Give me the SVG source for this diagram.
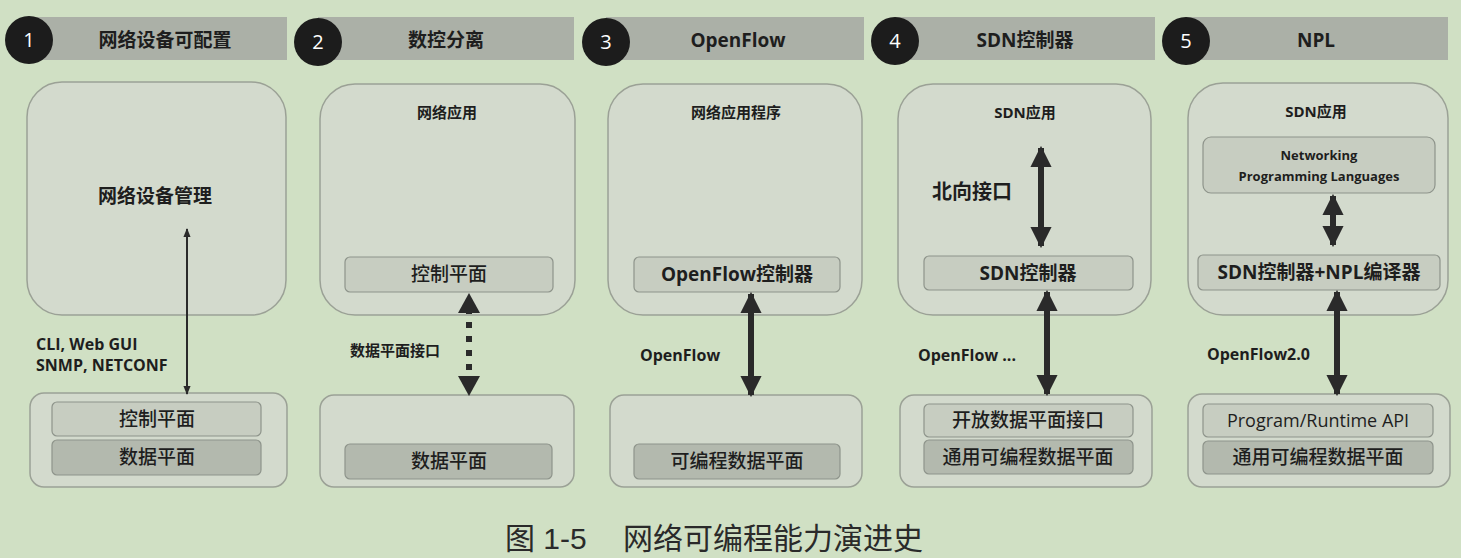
<svg xmlns="http://www.w3.org/2000/svg" width="1461" height="558" viewBox="0 0 1461 558">
<defs>
<style>
.bar{fill:#abb0a7;}
.num{fill:#1c1c1c;}
.numt{fill:#ffffff;font-family:"Open Sans","Noto Sans",sans-serif;font-size:20px;text-anchor:middle;}
.ht{fill:#1e1e1e;font-family:"Open Sans","Noto Sans CJK SC",sans-serif;font-weight:bold;font-size:19px;text-anchor:middle;}
.outer{fill:#d3dacd;stroke:#9ba196;stroke-width:1.5;}
.ctl{fill:#c7cdc1;stroke:#8e948b;stroke-width:1.2;}
.dat{fill:#b3b9ae;stroke:#8e948b;stroke-width:1.2;}
.t{fill:#1e1e1e;font-family:"Open Sans","Noto Sans CJK SC",sans-serif;font-weight:500;font-size:19px;text-anchor:middle;}
.tb{fill:#1e1e1e;font-family:"Open Sans","Noto Sans CJK SC",sans-serif;font-weight:bold;font-size:15px;text-anchor:middle;}
.lb{fill:#1e1e1e;font-family:"Open Sans","Noto Sans CJK SC",sans-serif;font-weight:bold;font-size:16px;}
.cap{fill:#2a2a2a;font-family:"Liberation Sans","Noto Sans CJK SC",sans-serif;font-size:30px;}
.thick{stroke:#2a2a2a;stroke-width:6;fill:none;}
</style>
<marker id="ah" viewBox="0 0 10 10" refX="9" refY="5" markerWidth="3.6" markerHeight="3.6" orient="auto-start-reverse" markerUnits="strokeWidth">
<path d="M0,0 L10,5 L0,10 z" fill="#2a2a2a"/>
</marker>
<marker id="ahs" viewBox="0 0 10 10" refX="9" refY="5" markerWidth="4.5" markerHeight="4.5" orient="auto-start-reverse" markerUnits="strokeWidth">
<path d="M0,1 L10,5 L0,9 z" fill="#2a2a2a"/>
</marker>
</defs>
<rect x="0" y="0" width="1461" height="558" fill="#d0e0c4"/>

<g id="headers">
<rect class="bar" x="29" y="17" width="258" height="43"/>
<circle class="num" cx="29" cy="40" r="24"/>
<text class="numt" x="29" y="47">1</text>
<text class="ht" x="165" y="47">网络设备可配置</text>

<rect class="bar" x="318" y="17" width="256" height="43"/>
<circle class="num" cx="318" cy="42" r="24"/>
<text class="numt" x="318" y="49">2</text>
<text class="ht" x="446" y="47">数控分离</text>

<rect class="bar" x="606" y="17" width="258" height="43"/>
<circle class="num" cx="606" cy="42" r="24"/>
<text class="numt" x="606" y="49">3</text>
<text class="ht" x="738" y="47">OpenFlow</text>

<rect class="bar" x="895" y="17" width="260" height="43"/>
<circle class="num" cx="895" cy="41" r="24"/>
<text class="numt" x="895" y="48">4</text>
<text class="ht" x="1025" y="47">SDN控制器</text>

<rect class="bar" x="1186" y="17" width="262" height="43"/>
<circle class="num" cx="1186" cy="41" r="24"/>
<text class="numt" x="1186" y="48">5</text>
<text class="ht" x="1316" y="47">NPL</text>
</g>

<g id="panel1">
<rect class="outer" x="27" y="82" width="259" height="233" rx="35"/>
<text class="t" x="155" y="203" style="font-weight:bold">网络设备管理</text>
<rect class="outer" x="30" y="393" width="257" height="94" rx="14"/>
<rect class="ctl" x="52" y="402" width="209" height="34" rx="5"/>
<text class="t" x="157" y="426">控制平面</text>
<rect class="dat" x="52" y="440" width="209" height="35" rx="5"/>
<text class="t" x="157" y="464">数据平面</text>
<text class="lb" x="36" y="350">CLI, Web GUI</text>
<text class="lb" x="36" y="371">SNMP, NETCONF</text>
</g>

<g id="panel2">
<rect class="outer" x="320" y="84" width="255" height="231" rx="35"/>
<text class="tb" x="447" y="118">网络应用</text>
<rect class="ctl" x="345" y="257" width="208" height="35" rx="5"/>
<text class="t" x="449" y="281">控制平面</text>
<rect class="outer" x="320" y="395" width="254" height="92" rx="14"/>
<rect class="dat" x="345" y="444" width="207" height="35" rx="5"/>
<text class="t" x="449" y="468">数据平面</text>
<text class="lb" x="350" y="356" style="font-size:15px">数据平面接口</text>
</g>

<g id="panel3">
<rect class="outer" x="608" y="84" width="254" height="231" rx="35"/>
<text class="tb" x="736" y="118">网络应用程序</text>
<rect class="ctl" x="634" y="257" width="206" height="35" rx="5"/>
<text class="t" x="737" y="281" style="font-weight:bold">OpenFlow控制器</text>
<rect class="outer" x="610" y="395" width="252" height="92" rx="14"/>
<rect class="dat" x="634" y="444" width="206" height="35" rx="5"/>
<text class="t" x="737" y="468">可编程数据平面</text>
<text class="lb" x="640" y="361">OpenFlow</text>
</g>

<g id="panel4">
<rect class="outer" x="898" y="84" width="253" height="231" rx="35"/>
<text class="tb" x="1025" y="118">SDN应用</text>
<text class="lb" x="932" y="199" style="font-size:20px">北向接口</text>
<rect class="ctl" x="924" y="256" width="209" height="34" rx="5"/>
<text class="t" x="1028" y="280" style="font-weight:bold">SDN控制器</text>
<rect class="outer" x="900" y="395" width="252" height="92" rx="14"/>
<rect class="ctl" x="924" y="404" width="209" height="33" rx="5"/>
<text class="t" x="1028" y="427">开放数据平面接口</text>
<rect class="dat" x="924" y="440" width="209" height="34" rx="5"/>
<text class="t" x="1028" y="464">通用可编程数据平面</text>
<text class="lb" x="918" y="361">OpenFlow ...</text>
</g>

<g id="panel5">
<rect class="outer" x="1188" y="83" width="260" height="232" rx="35"/>
<text class="tb" x="1316" y="117">SDN应用</text>
<rect class="ctl" x="1203" y="137" width="232" height="56" rx="8"/>
<text class="tb" x="1319" y="160" style="font-size:13px">Networking</text>
<text class="tb" x="1319" y="181" style="font-size:13px">Programming Languages</text>
<rect class="ctl" x="1198" y="255" width="242" height="35" rx="5"/>
<text class="t" x="1319" y="279" style="font-weight:bold">SDN控制器+NPL编译器</text>
<rect class="outer" x="1188" y="394" width="262" height="93" rx="14"/>
<rect class="ctl" x="1203" y="404" width="230" height="33" rx="5"/>
<text class="t" x="1318" y="427" style="font-size:18px">Program/Runtime API</text>
<rect class="dat" x="1203" y="441" width="230" height="33" rx="5"/>
<text class="t" x="1318" y="464">通用可编程数据平面</text>
<text class="lb" x="1207" y="360">OpenFlow2.0</text>
</g>

<g id="connectors">
<line x1="187" y1="229" x2="187" y2="394" stroke="#2a2a2a" stroke-width="2" marker-start="url(#ahs)" marker-end="url(#ahs)"/>
<line x1="469" y1="300" x2="469" y2="388" stroke="#2a2a2a" stroke-width="6" stroke-dasharray="6,8" stroke-dashoffset="-8"/>
<path d="M469,293 L480,313 L458,313 z" fill="#2a2a2a"/>
<path d="M469,396 L480,376 L458,376 z" fill="#2a2a2a"/>
<line class="thick" x1="751" y1="294" x2="751" y2="395" marker-start="url(#ah)" marker-end="url(#ah)"/>
<line class="thick" x1="1041" y1="148" x2="1041" y2="246" marker-start="url(#ah)" marker-end="url(#ah)"/>
<line class="thick" x1="1047" y1="292" x2="1047" y2="394" marker-start="url(#ah)" marker-end="url(#ah)"/>
<line class="thick" x1="1333" y1="196" x2="1333" y2="245" marker-start="url(#ah)" marker-end="url(#ah)"/>
<line class="thick" x1="1337" y1="292" x2="1337" y2="394" marker-start="url(#ah)" marker-end="url(#ah)"/>
</g>

<text class="cap" x="505" y="549">图 1-5</text>
<text class="cap" x="623" y="549">网络可编程能力演进史</text>
</svg>
